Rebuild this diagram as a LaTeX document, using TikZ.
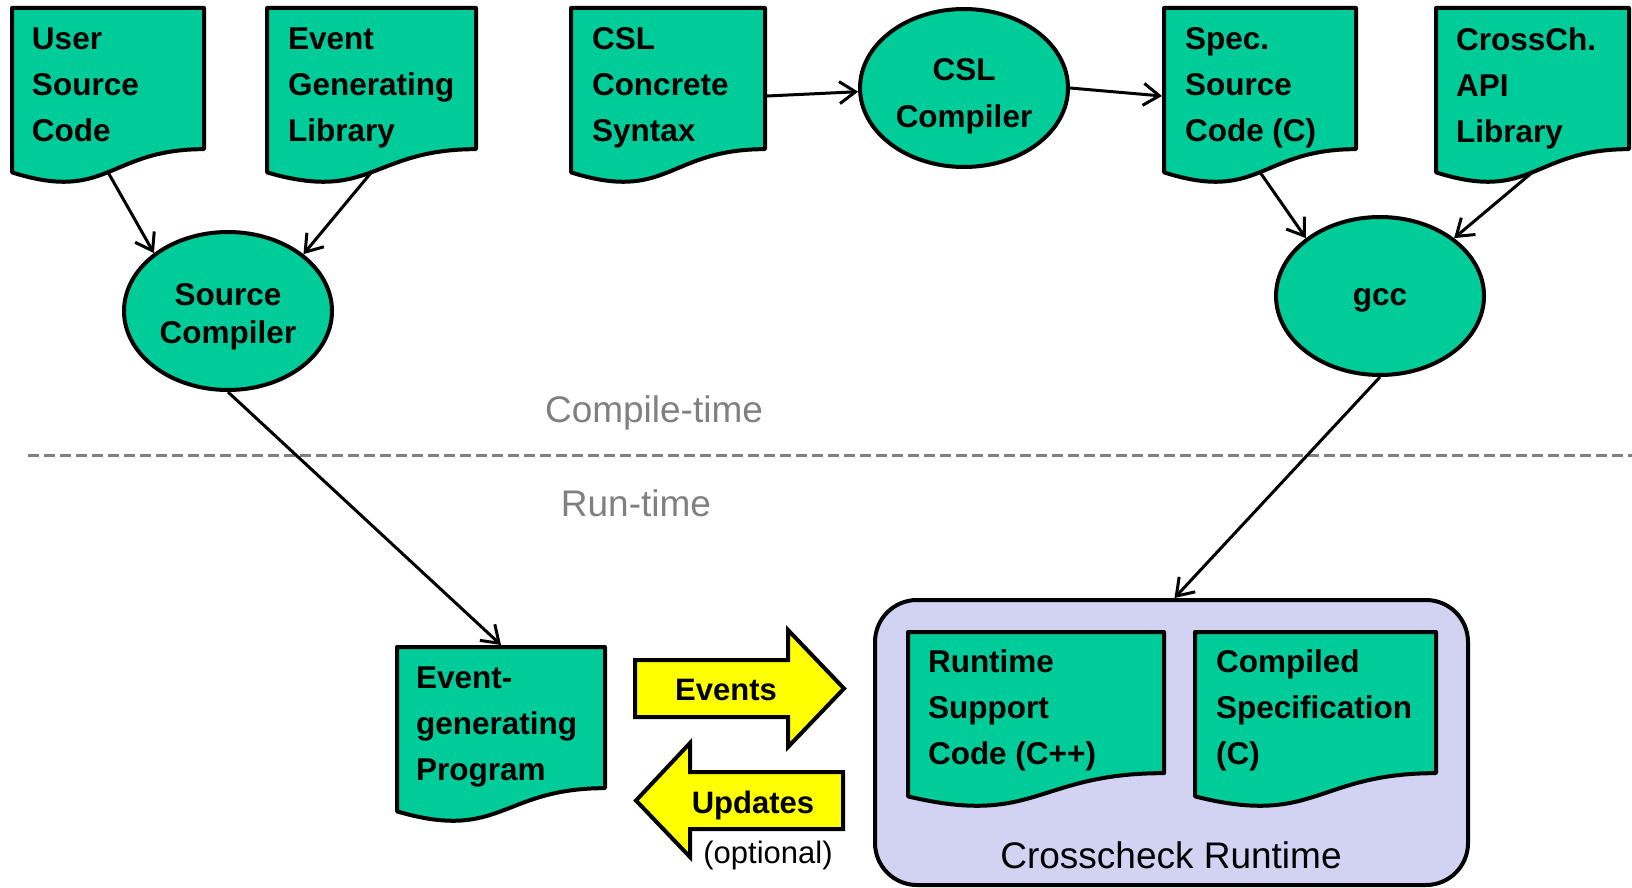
\documentclass[tikz,border=0pt]{standalone}
\usepackage{fontspec}
\setmainfont{Liberation Sans}
\usetikzlibrary{calc,shapes.geometric,arrows.meta}
\pgfdeclarelayer{background}
\pgfsetlayers{background,main}

\definecolor{docgreen}{RGB}{0,204,153}
\definecolor{rtfill}{RGB}{210,210,242}
\definecolor{evyellow}{RGB}{255,255,0}
\definecolor{sepgray}{RGB}{128,128,128}

\tikzset{
  outline/.style={draw=black, line width=4pt, line join=round},
  docbox/.style={anchor=north west, inner sep=0pt, outer sep=0pt, text=black},
  doctop/.style={font=\bfseries\fontsize{31.5}{46}\selectfont},
  docshape/.style={outline, fill=docgreen},
  proc/.style={ellipse, outline, fill=docgreen, inner sep=0pt,
    minimum width=208pt, minimum height=158pt},
  proctext/.style={align=center, inner sep=0pt},
  conn/.style={draw=black, line width=3pt, -{Straight Barb[length=16pt,width=22pt]}},
  bigarrow/.style={draw=black, line width=4pt, line join=miter, fill=evyellow},
  arrowlabel/.style={font=\bfseries\fontsize{31}{37}\selectfont, inner sep=0pt},
  notelabel/.style={font=\fontsize{31}{37}\selectfont, inner sep=0pt},
  phase/.style={font=\fontsize{37}{44}\selectfont, text=sepgray, inner sep=0pt},
  sepline/.style={draw=sepgray, line width=3pt, dash pattern=on 11pt off 5pt},
  runtimebox/.style={outline, fill=rtfill, rounded corners=42pt, anchor=north west,
    minimum width=593pt, minimum height=285pt, inner sep=0pt},
  rtlabel/.style={font=\fontsize{37}{44}\selectfont, inner sep=0pt},
}

% document symbol: name, x, y, width, height, font style, left pad, top pad, text
\newcommand\docnode[9]{%
  \node[docbox, #6] (#1) at (#2,#3)
    {\begin{minipage}[t][#5pt][t]{#4pt}\vspace*{#8pt}\leftskip=#7pt\relax #9\end{minipage}};
  \begin{pgfonlayer}{background}
    \draw[docshape] (#1.north west) -- (#1.north east)
      -- ($(#1.north east)!0.802!(#1.south east)$)
      .. controls ($(#1.north)!0.802!(#1.south)$) and ($(#1.north)!1.1075!(#1.south)$)
      .. ($(#1.north west)!0.934!(#1.south west)$) -- cycle;
  \end{pgfonlayer}}

\begin{document}
\begin{tikzpicture}[x=1pt,y=-1pt]
\useasboundingbox (0,0) rectangle (1632,888);

% compile-time inputs
\docnode{usc}{12}{8}{192}{176}{doctop}{20}{20}{User\\Source\\Code}
\docnode{egl}{267}{8}{209}{176}{doctop}{21}{20}{Event\\Generating\\Library}
\docnode{csl}{571}{8}{194}{176}{doctop}{21}{20}{CSL\\Concrete\\Syntax}
\docnode{spec}{1164}{8}{192}{176}{doctop}{21}{20}{Spec.\\Source\\Code (C)}
\docnode{cap}{1436}{8}{193}{176}{doctop}{20}{20}{CrossCh.\\API\\Library}

% compilers
\node[proc] (sc) at (228,311) {};
\node[proctext, font=\bfseries\fontsize{31.5}{38.5}\selectfont] (sct)
  at ([yshift=-6pt]sc.center) {Source\\Compiler};
\node[proc] (ccomp) at (964,88) {};
\node[proctext, font=\bfseries\fontsize{31.5}{47}\selectfont] (ccompt)
  at ([yshift=-8pt]ccomp.center) {CSL\\Compiler};
\node[proc] (gcc) at (1380,296) {};
\node[proctext, font=\bfseries\fontsize{31.5}{38.5}\selectfont] (gcct)
  at ([yshift=-4pt]gcc.center) {gcc};

% phase separator
\coordinate (sepL) at (28,455);
\coordinate (sepR) at (1632,455);
\draw[sepline] (sepL) -- (sepR);
\node[phase] (ct) at (654,413) {Compile-time};
\node[phase] (rt) at (636,503) {Run-time};

% run-time side
\docnode{egp}{397}{647}{208}{176}{doctop}{19}{20}{Event-\\generating\\Program}
\begin{pgfonlayer}{background}
  \node[runtimebox] (crt) at (873,598) {};
\end{pgfonlayer}
\docnode{rsc}{908}{632}{256}{176}{doctop}{20}{18}{Runtime\\Support\\Code (C++)}
\docnode{cs}{1195}{632}{241}{176}{doctop}{21}{18}{Compiled\\Specification\\(C)}
\node[rtlabel] (crtl) at (1171,855) {Crosscheck Runtime};

% event / update exchange
\draw[bigarrow] (635,660) -- (788,660) -- (788,630) -- (844,688.5)
  -- (788,747) -- (788,717) -- (635,717) -- cycle;
\node[arrowlabel] (ev) at (726,690) {Events};
\draw[bigarrow] (843,772) -- (690,772) -- (690,743) -- (636,800.5)
  -- (690,857) -- (690,829) -- (843,829) -- cycle;
\node[arrowlabel] (up) at (753,805) {Updates};
\node[notelabel] (opt) at (768,855) {(optional)};

% build flow
\draw[conn] ($(usc.north)!0.933!(usc.south)$) -- (sc.142);
\draw[conn] ($(egl.north)!0.933!(egl.south)$) -- (sc.37);
\draw[conn] ([xshift=2pt]csl.east) -- (ccomp.182);
\draw[conn] (ccomp.east) -- ([xshift=-2pt]spec.west);
\draw[conn] ($(spec.north)!0.933!(spec.south)$) -- (gcc.142);
\draw[conn] ($(cap.north)!0.933!(cap.south)$) -- (gcc.38);
\draw[conn] (sc.south) -- ([yshift=2pt]egp.north);
\draw[conn] (gcc.south) -- ([xshift=3pt]crt.north);
\end{tikzpicture}
\end{document}
